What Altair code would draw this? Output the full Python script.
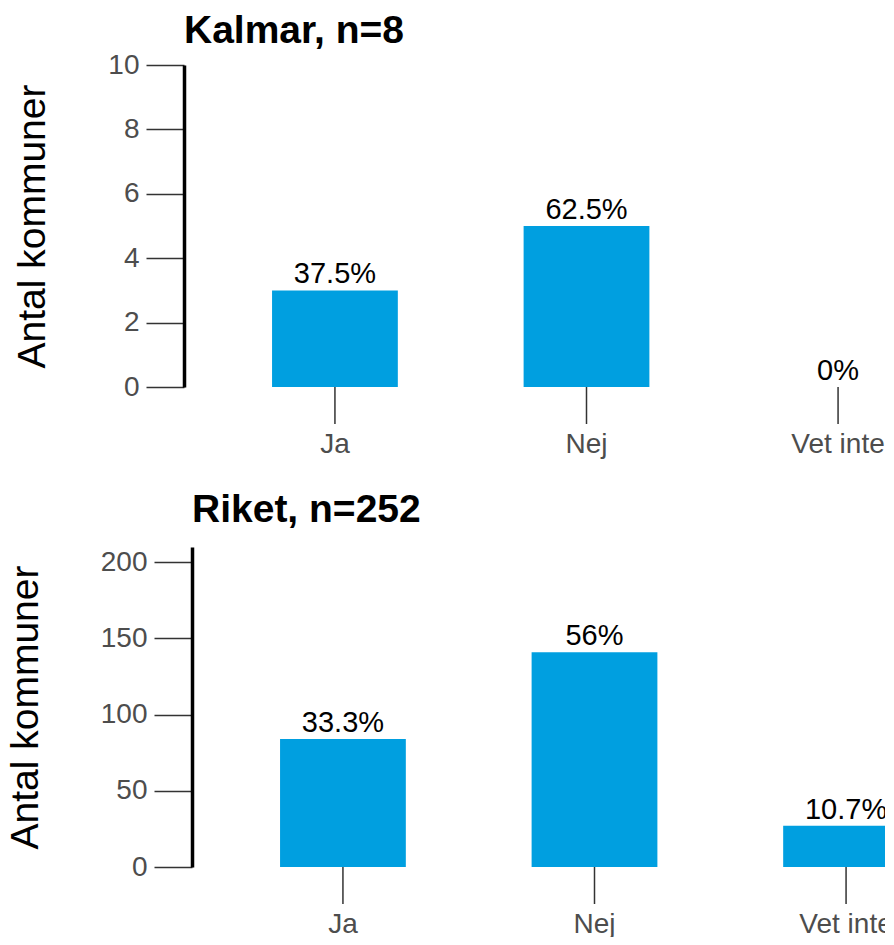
import altair as alt
import pandas as pd

categories = ["Ja", "Nej", "Vet inte"]
kalmar_counts = [3, 5, 0]
kalmar_labels = ["37.5%", "62.5%", "0%"]
riket_counts = [84, 141, 27]
riket_labels = ["33.3%", "56%", "10.7%"]
kalmar_ticks = [0, 2, 4, 6, 8, 10]
riket_ticks = [0, 50, 100, 150, 200]

FONT = "Liberation Sans"
BLUE = "#009FE0"
PANEL_W = 701


def panel(counts, labels, title, ymax, yticks, plot_h, group_h, shift, title_offset,
          tick_len, label_pad):
    df = pd.DataFrame({"svar": categories, "antal": counts, "etikett": labels})
    xscale = alt.Scale(paddingInner=0.5, paddingOuter=0.35, range=[shift, shift + 805])
    x = alt.X("svar:N", sort=categories, scale=xscale, axis=None)
    y = alt.Y(
        "antal:Q",
        scale=alt.Scale(domain=[0, ymax], nice=False, zero=True, range=[plot_h, 0]),
        axis=alt.Axis(
            title="Antal kommuner", values=yticks, grid=False, offset=-shift,
            domainColor="black", domainWidth=3.5,
            tickSize=38, tickColor="#333333", tickWidth=1.5,
            labelFontSize=28, labelColor="#4D4D4D", labelPadding=7, labelFont=FONT,
            titleFontSize=39, titleFontWeight="normal", titleColor="black",
            titlePadding=55, titleFont=FONT,
        ),
    )
    bars = alt.Chart(df).mark_bar(color=BLUE, clip=True).encode(x=x, y=y)
    text = alt.Chart(df).mark_text(
        baseline="alphabetic", dy=-7, fontSize=29, color="black", font=FONT, clip=True
    ).encode(x=x, y="antal:Q", text="etikett:N")
    ticks = alt.Chart(df).mark_rule(color="#333333", strokeWidth=1.5, clip=True).encode(
        x=x, y=alt.value(plot_h), y2=alt.value(plot_h + tick_len)
    )
    xlabels = alt.Chart(df).mark_text(
        baseline="top", fontSize=28, color="#4D4D4D", font=FONT, clip=True
    ).encode(x=x, y=alt.value(plot_h + tick_len + label_pad), text="svar:N")
    return alt.layer(bars, text, ticks, xlabels).properties(
        width=PANEL_W,
        height=group_h,
        title=alt.TitleParams(
            title, anchor="start", frame="group", fontSize=39, fontWeight="bold",
            font=FONT, color="black", offset=title_offset, dx=shift,
        ),
    )


top = panel(kalmar_counts, kalmar_labels, "Kalmar, n=8", 10, kalmar_ticks,
            322, 402, 0, 0, 37, 7)
bottom = panel(riket_counts, riket_labels, "Riket, n=252", 210, riket_ticks,
               320, 390, 8, 17, 37, 7)

chart = alt.vconcat(top, bottom, spacing=24).resolve_scale(y="independent").properties(
    padding={"left": -2, "top": 4, "right": 0, "bottom": 0}
).configure_view(stroke=None)

chart.save("out.html", embed_options={"renderer": "svg", "actions": False})
